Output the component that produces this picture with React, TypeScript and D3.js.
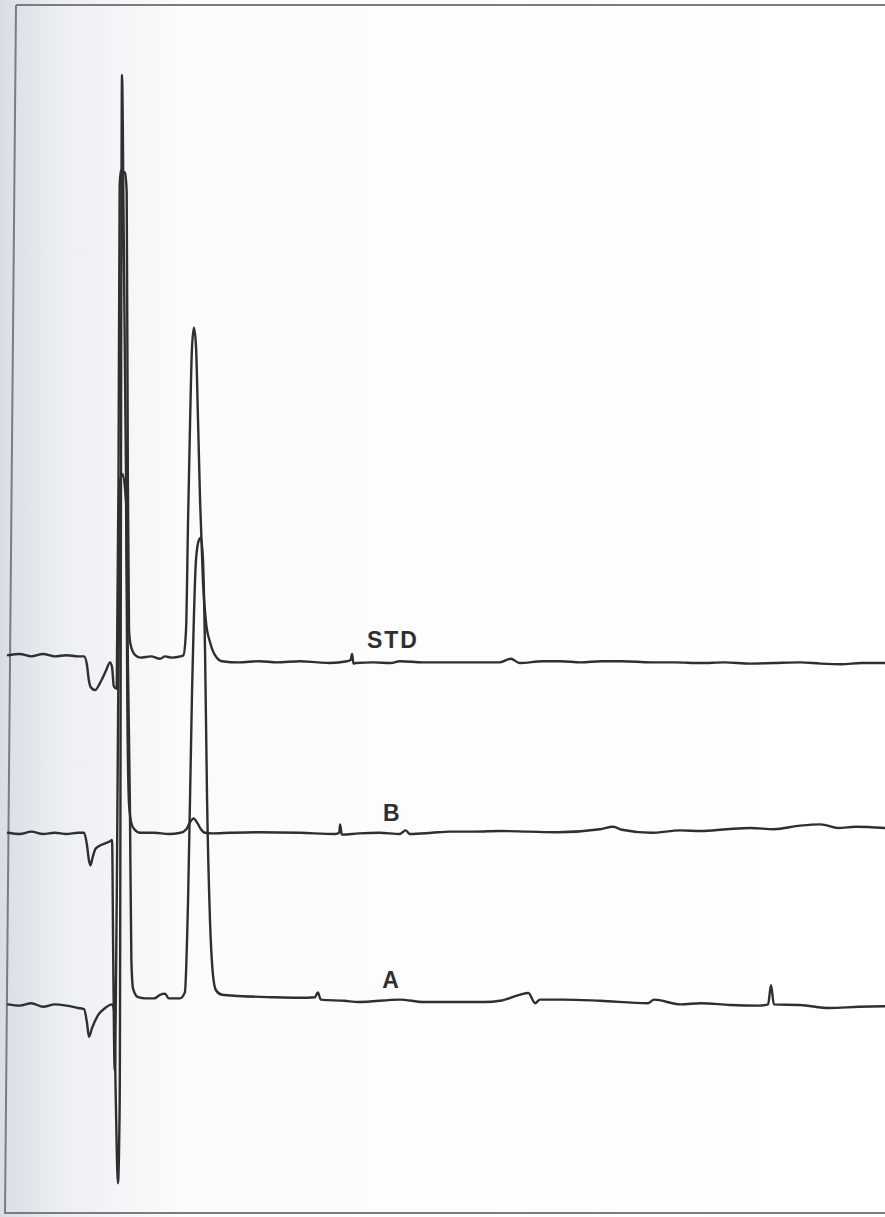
import * as d3 from "d3";

// chromatogram traces: [time (min), detector signal (chart %)]
const stdTrace: [number, number][] = [
  [0, 45.4], [0.4, 45.5], [0.8, 45.3], [1.2, 45.5], [1.6, 45.3], [2.0, 45.4], [2.4, 45.3], [2.6, 45.3],
  [2.7, 44.6], [2.76, 43.4], [2.84, 42.7], [2.98, 42.5], [3.15, 43.1], [3.35, 44.1], [3.49, 44.8],
  [3.56, 44.4], [3.62, 42.8], [3.72, 42.6], [3.78, 60], [3.82, 84.5], [3.86, 85.8], [4.0, 85.6],
  [4.06, 84], [4.1, 60], [4.14, 47.5], [4.2, 46.2], [4.35, 45.4], [4.52, 45.2], [4.9, 45.3],
  [5.2, 45.1], [5.37, 45.3], [5.6, 45.2], [5.9, 45.3], [6.0, 45.4], [6.09, 47.5], [6.16, 56.7],
  [6.23, 65], [6.29, 70.8], [6.36, 72.7], [6.43, 71.2], [6.5, 65], [6.57, 58.3], [6.67, 51.5],
  [6.77, 48.2], [6.91, 46.5], [7.08, 45.4], [7.32, 44.9], [7.9, 44.8], [8.6, 44.9], [9.2, 44.8],
  [10.0, 44.9], [10.6, 44.8], [11.0, 44.75], [11.6, 44.9], [11.72, 45.0], [11.77, 45.5], [11.82, 44.7],
  [11.9, 44.75], [12.5, 44.8], [13.1, 44.75], [13.4, 44.9], [14.2, 44.8], [15.1, 44.8], [16.0, 44.8],
  [16.8, 44.8], [17.2, 45.1], [17.5, 44.75], [18.3, 44.9], [18.9, 44.9], [19.6, 44.8], [20.3, 44.9],
  [21.0, 44.9], [22.0, 44.8], [22.8, 44.8], [23.7, 44.75], [24.5, 44.8], [25.4, 44.7], [26.2, 44.75],
  [27.1, 44.8], [27.8, 44.7], [28.5, 44.65], [29.2, 44.75], [30, 44.75],
];

const bTrace: [number, number][] = [
  [0, 30.6], [0.4, 30.5], [0.8, 30.7], [1.2, 30.5], [1.6, 30.6], [2.0, 30.5], [2.4, 30.6], [2.6, 30.6],
  [2.7, 29.6], [2.77, 28.3], [2.82, 27.9], [2.9, 28.6], [3.0, 29.3], [3.2, 29.6], [3.49, 29.9],
  [3.56, 30.0], [3.6, 20], [3.65, 10.8], [3.72, 25], [3.84, 60], [3.92, 60.5], [4.04, 58],
  [4.08, 42], [4.14, 33], [4.22, 31.4], [4.32, 30.9], [4.52, 30.6], [5.0, 30.6], [5.5, 30.5],
  [5.9, 30.6], [6.1, 30.9], [6.23, 31.5], [6.35, 31.8], [6.48, 31.4], [6.6, 30.9], [6.74, 30.6],
  [7.0, 30.55], [7.6, 30.6], [8.6, 30.65], [9.99, 30.6], [11.2, 30.5], [11.33, 30.6], [11.36, 31.3],
  [11.42, 30.45], [12.0, 30.55], [12.7, 30.6], [13.41, 30.5], [13.6, 30.8], [13.75, 30.5], [14.5, 30.6],
  [15.1, 30.7], [16.0, 30.7], [16.8, 30.75], [17.8, 30.7], [18.8, 30.65], [20.25, 30.9], [20.7, 31.1],
  [21.0, 30.85], [22.0, 30.6], [23.0, 30.8], [23.7, 30.75], [24.6, 30.9], [25.4, 31.0], [26.2, 30.9],
  [27.1, 31.2], [27.8, 31.3], [28.4, 31.0], [29.0, 31.1], [30, 31.0],
];

const aTrace: [number, number][] = [
  [0, 16.3], [0.4, 16.2], [0.8, 16.4], [1.2, 16.1], [1.6, 16.3], [2.0, 16.2], [2.4, 16.0], [2.6, 15.9],
  [2.7, 14.8], [2.77, 13.6], [2.87, 14.3], [3.08, 15.4], [3.32, 16.0], [3.56, 16.3], [3.63, 15.8],
  [3.69, 8], [3.76, 1.4], [3.82, 8], [3.9, 93.75], [3.96, 80], [4.1, 45], [4.17, 33], [4.22, 20],
  [4.28, 17.6], [4.45, 16.9], [4.7, 16.8], [5.0, 16.8], [5.2, 17.1], [5.37, 17.2], [5.5, 16.8],
  [5.88, 16.8], [6.05, 17.3], [6.16, 25], [6.29, 41.7], [6.43, 53.3], [6.53, 55], [6.6, 55.2],
  [6.67, 53.3], [6.74, 45.8], [6.81, 33.3], [6.91, 23.3], [7.01, 18.8], [7.11, 17.5], [7.32, 17.1],
  [7.9, 17.0], [9.0, 16.9], [9.99, 16.85], [10.5, 16.9], [10.6, 17.3], [10.7, 16.7], [11.5, 16.6],
  [12.0, 16.5], [13.41, 16.7], [14.2, 16.5], [15.1, 16.5], [16.3, 16.5], [16.83, 16.6], [17.5, 17.1],
  [17.8, 17.25], [18.03, 16.4], [18.2, 16.7], [19.0, 16.7], [20.25, 16.6], [21.9, 16.4], [22.1, 16.7],
  [23.0, 16.3], [23.7, 16.4], [24.7, 16.25], [25.7, 16.2], [26.0, 16.3], [26.1, 17.9], [26.2, 16.3],
  [27.1, 16.25], [28.1, 16.0], [29.1, 16.1], [30, 16.15],
];

const traceNames = ["STD", "B", "A"];
const labelTime = [12.28, 12.83, 12.8];
const labelSignal = [46.0, 31.6, 17.7];

const W = 885;
const H = 1217;

export default function App() {
  const x = d3.scaleLinear().domain([0, 30]).range([8, 885]);
  const y = d3.scaleLinear().domain([0, 100]).range([1200, 0]);
  const line = d3
    .line<[number, number]>()
    .x((d) => x(d[0]))
    .y((d) => y(d[1]))
    .curve(d3.curveMonotoneX);

  const traces = [stdTrace, bTrace, aTrace];

  return (
    <svg width={W} height={H} style={{ position: "absolute", left: 0, top: 0, background: "#fff" }}>
      <defs>
        <linearGradient id="paper" x1="0" x2="1" y1="0" y2="0">
          <stop offset="0" stopColor="#d9dee5" />
          <stop offset="0.07" stopColor="#eceff3" />
          <stop offset="0.2" stopColor="#fbfbfc" />
          <stop offset="1" stopColor="#ffffff" />
        </linearGradient>
      </defs>
      <rect width={W} height={H} fill="url(#paper)" />
      {/* chart paper edge */}
      <path d={`M16,5 L${W},5 M16,5 L5,1213 L${W},1213`} fill="none" stroke="#7c7c7c" strokeWidth={2} />

      <g fill="none" stroke="#2f2f2f" strokeWidth={2.4} strokeLinejoin="round" strokeLinecap="round">
        {traces.map((t, i) => (
          <path key={traceNames[i]} d={line(t) ?? ""} />
        ))}
      </g>

      <g fill="#2f2f2f" fontFamily="'Liberation Sans', Arial, sans-serif" fontWeight="bold" fontSize={23} letterSpacing={2}>
        {traceNames.map((n, i) => (
          <text key={n} x={x(labelTime[i])} y={y(labelSignal[i])}>
            {n}
          </text>
        ))}
      </g>
    </svg>
  );
}
